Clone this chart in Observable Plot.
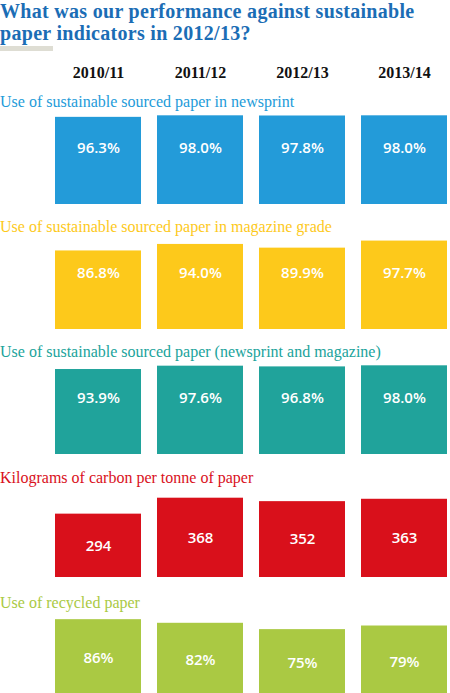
<!DOCTYPE html>
<html>
<head>
<meta charset="utf-8">
<script src="https://cdn.jsdelivr.net/npm/d3@7"></script>
<script src="https://cdn.jsdelivr.net/npm/@observablehq/plot@0.6"></script>
<style>
  body { margin: 0; width: 450px; background: #fff; overflow: hidden; }
  svg { display: block; }
  .title { font: bold 20px/22px "Liberation Serif", serif; letter-spacing: 0.3px; color: #1b6db5; margin: 0; white-space: nowrap; }
  .rule { width: 53px; height: 5px; background: #deddd3; margin-top: 2px; }
  .label { font: 16px/24px "Liberation Serif", serif; height: 24px; white-space: nowrap; }
</style>
</head>
<body>
<div class="title">What was our performance against sustainable<br>paper indicators in 2012/13?</div>
<div class="rule"></div>
<div id="chart"></div>
<script>
const years = ["2010/11", "2011/12", "2012/13", "2013/14"];

const labels = [
  "Use of sustainable sourced paper in newsprint",
  "Use of sustainable sourced paper in magazine grade",
  "Use of sustainable sourced paper (newsprint and magazine)",
  "Kilograms of carbon per tonne of paper",
  "Use of recycled paper"
];

const newsprint = [96.3, 98.0, 97.8, 98.0];
const magazine = [86.8, 94.0, 89.9, 97.7];
const combined = [93.9, 97.6, 96.8, 98.0];
const carbon = [294, 368, 352, 363];
const recycled = [86, 82, 75, 79];

const colors = ["#239bd9", "#fdc91b", "#20a39b", "#d9101b", "#aac943"];

const root = d3.select("#chart");

// cabecera con los años
const header = Plot.plot({
  width: 450,
  height: 38.5,
  marginLeft: 53,
  marginRight: 1,
  marginTop: 0,
  marginBottom: 0,
  x: { type: "band", domain: years, paddingInner: 0.155, paddingOuter: 0, axis: null },
  marks: [
    Plot.text(years, { x: d => d, dy: 2, fontSize: 16, fontWeight: "bold", fontFamily: "Liberation Serif, serif", fill: "#111" })
  ]
});
root.append(() => header);

const rows = [
  { values: newsprint, fmt: d => d.toFixed(1) + "%", h: 90, px: 0.905, mid: false },
  { values: magazine, fmt: d => d.toFixed(1) + "%", h: 90, px: 0.905, mid: false },
  { values: combined, fmt: d => d.toFixed(1) + "%", h: 90, px: 0.905, mid: false },
  { values: carbon, fmt: d => String(d), h: 87, px: 0.2155, mid: true },
  { values: recycled, fmt: d => d + "%", h: 82, px: 0.905, mid: true }
];

rows.forEach((r, i) => {
  const data = years.map((y, j) => ({ year: y, value: r.values[j] }));
  root.append("div").attr("class", "label").style("color", colors[i]).text(labels[i]);
  // las tres primeras filas llevan el texto a altura fija, las otras centrado en la barra
  const textOpts = r.mid
    ? { x: "year", y: d => d.value / 2 }
    : { x: "year", frameAnchor: "bottom", dy: -52 };
  const chart = Plot.plot({
    width: 450,
    height: r.h,
    marginLeft: 53,
    marginRight: 1,
    marginTop: 0,
    marginBottom: 0,
    x: { type: "band", domain: years, paddingInner: 0.155, paddingOuter: 0, axis: null },
    y: { domain: [0, r.h / r.px], axis: null },
    marks: [
      Plot.barY(data, { x: "year", y: "value", fill: colors[i] }),
      Plot.text(data, {
        ...textOpts,
        text: d => r.fmt(d.value),
        fill: "white",
        fontSize: 15,
        fontWeight: 600,
        fontFamily: "Open Sans, sans-serif"
      })
    ]
  });
  root.append(() => chart);
  root.append("div").style("height", (125.4 - 24 - r.h) + "px");
});
</script>
</body>
</html>
